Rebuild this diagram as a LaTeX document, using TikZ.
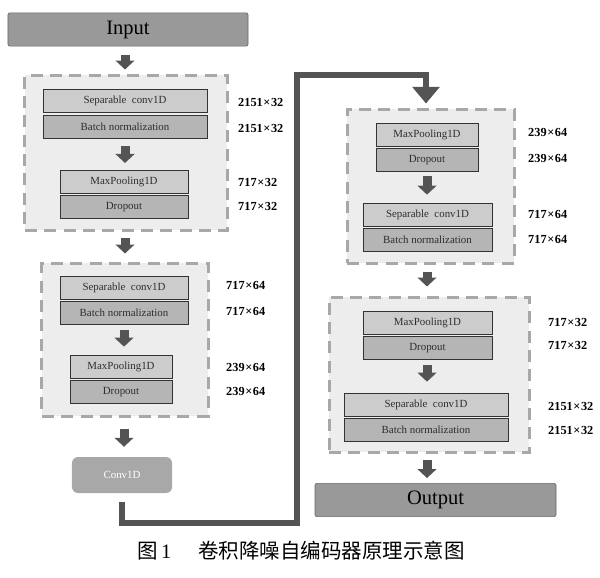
\documentclass[tikz,border=0pt]{standalone}
\usepackage{fontspec}
\setmainfont{Liberation Serif}
\newfontfamily\cjk{Noto Sans CJK SC}
\usetikzlibrary{arrows.meta}
\definecolor{lightbox}{gray}{0.80}
\definecolor{darkbox}{gray}{0.71}
\definecolor{bigbox}{gray}{0.60}
\definecolor{convbox}{gray}{0.66}
\definecolor{blockfill}{gray}{0.93}
\definecolor{dashcol}{gray}{0.66}
\definecolor{arrowcol}{gray}{0.33}
\definecolor{textcol}{gray}{0.18}
\tikzset{
  blockbox/.style={draw=dashcol, fill=blockfill, line width=0.09cm, dash pattern=on 0.36cm off 0.22cm, minimum height=#1, inner sep=0pt},
  layerA/.style={draw=black!80, line width=0.6pt, fill=lightbox, minimum height=0.69cm, minimum width=#1, inner sep=0pt, text=textcol, font=\fontsize{9.3}{10}\selectfont},
  layerB/.style={layerA=#1, fill=darkbox},
  dimlabel/.style={anchor=west, inner sep=0pt, font=\bfseries\fontsize{10.5}{11}\selectfont},
  endbox/.style={draw=black!60, line width=0.5pt, fill=bigbox, rounded corners=0.06cm, minimum width=#1, minimum height=1.0cm, inner sep=0pt, font=\fontsize{17.5}{19}\selectfont},
  barrow/.style={draw=arrowcol, line width=0.27cm, -{Triangle[width=0.56cm, length=0.27cm]}},
  conn/.style={draw=arrowcol, line width=0.18cm, line join=miter, -{Triangle[width=0.8cm, length=0.5cm]}}
}
\newcommand{\tms}{\kern0.05em×\kern0.05em}
\begin{document}
\begin{tikzpicture}[x=0.03cm, y=-0.03cm]
\useasboundingbox (0,0) rectangle (600,577);
% Input
\node[endbox=7.2cm] (in) at (128,29.5) {Input};
% Block 1
\node[blockbox=4.65cm, minimum width=6.06cm] (b1) at (126,152.5) {};
\node[layerA=4.92cm] (sc1) at (125,101) {Separable\ \ conv1D};
\node[layerB=4.92cm] (bn1) at (125,126.5) {Batch normalization};
\node[layerA=3.84cm] (mp1) at (124,181.5) {MaxPooling1D};
\node[layerB=3.84cm] (do1) at (124,207) {Dropout};
\node[dimlabel] (l11) at (238,102) {2151\tms32};
\node[dimlabel] (l12) at (238,128) {2151\tms32};
\node[dimlabel] (l13) at (238,182) {717\tms32};
\node[dimlabel] (l14) at (238,206) {717\tms32};
% Block 2
\node[blockbox=4.59cm, minimum width=4.98cm] (b2) at (125,339.5) {};
\node[layerA=3.84cm] (sc2) at (124,287.5) {Separable\ \ conv1D};
\node[layerB=3.84cm] (bn2) at (124,313) {Batch normalization};
\node[layerA=3.06cm] (mp2) at (121,366.5) {MaxPooling1D};
\node[layerB=3.06cm] (do2) at (121,392) {Dropout};
\node[dimlabel] (l21) at (226,285) {717\tms64};
\node[dimlabel] (l22) at (226,311) {717\tms64};
\node[dimlabel] (l23) at (226,367) {239\tms64};
\node[dimlabel] (l24) at (226,391) {239\tms64};
% Conv1D
\node[fill=convbox, rounded corners=0.18cm, minimum width=3.0cm, minimum height=1.08cm, inner sep=0pt, text=white, font=\fontsize{9.3}{10}\selectfont] (conv) at (122,475) {Conv1D};
% Block 3
\node[blockbox=4.62cm, minimum width=5.01cm] (b3) at (430.5,186) {};
\node[layerA=3.06cm] (mp3) at (427,134.5) {MaxPooling1D};
\node[layerB=3.06cm] (do3) at (427,160) {Dropout};
\node[layerA=3.87cm] (sc3) at (427.5,214.5) {Separable\ \ conv1D};
\node[layerB=3.87cm] (bn3) at (427.5,240) {Batch normalization};
\node[dimlabel] (l31) at (528,132) {239\tms64};
\node[dimlabel] (l32) at (528,158) {239\tms64};
\node[dimlabel] (l33) at (528,214) {717\tms64};
\node[dimlabel] (l34) at (528,239) {717\tms64};
% Block 4
\node[blockbox=4.65cm, minimum width=6.0cm] (b4) at (429,374.5) {};
\node[layerA=3.87cm] (mp4) at (427.5,322.5) {MaxPooling1D};
\node[layerB=3.87cm] (do4) at (427.5,348) {Dropout};
\node[layerA=4.92cm] (sc4) at (426,404.5) {Separable\ \ conv1D};
\node[layerB=4.92cm] (bn4) at (426,430) {Batch normalization};
\node[dimlabel] (l41) at (548,322) {717\tms32};
\node[dimlabel] (l42) at (548,345) {717\tms32};
\node[dimlabel] (l43) at (548,406) {2151\tms32};
\node[dimlabel] (l44) at (548,430) {2151\tms32};
% Output
\node[endbox=7.23cm] (out) at (435.5,500) {Output};
% Caption
\node[inner sep=0pt, font=\fontsize{17.5}{19}\selectfont] (cap) at (301,551) {\cjk 图{\rmfamily\,1}\hspace{1.3em}卷积降噪自编码器原理示意图};
% Block arrows
\draw[barrow] ([yshift=-0.25cm]in.south -| sc1.south) -- ([yshift=0.12cm]b1.north -| sc1.south);
\draw[barrow] ([yshift=-0.22cm]bn1.south -| sc1.south) -- ([yshift=0.2cm]mp1.north -| sc1.south);
\draw[barrow] ([yshift=-0.18cm]b1.south -| sc1.south) -- ([yshift=0.24cm]b2.north -| sc1.south);
\draw[barrow] ([yshift=-0.15cm]bn2.south -| sc2.south) -- ([yshift=0.24cm]mp2.north -| sc2.south);
\draw[barrow] ([yshift=-0.33cm]b2.south -| sc2.south) -- ([yshift=0.3cm]conv.north -| sc2.south);
\draw[barrow] ([yshift=-0.12cm]do3.south -| mp3.south) -- ([yshift=0.24cm]sc3.north -| mp3.south);
\draw[barrow] ([yshift=-0.21cm]b3.south -| mp3.south) -- ([yshift=0.27cm]b4.north -| mp3.south);
\draw[barrow] ([yshift=-0.15cm]do4.south -| mp3.south) -- ([yshift=0.33cm]sc4.north -| mp3.south);
\draw[barrow] ([yshift=-0.18cm]b4.south -| mp3.south) -- ([yshift=0.15cm]out.north -| mp3.south);
% Long connector
\coordinate (c1) at (297,523);
\coordinate (c2) at (426,75);
\draw[conn] ([yshift=-0.27cm]conv.south) |- (c1) |- (c2) -- ([yshift=0.12cm]b3.north -| c2);
\end{tikzpicture}
\end{document}
